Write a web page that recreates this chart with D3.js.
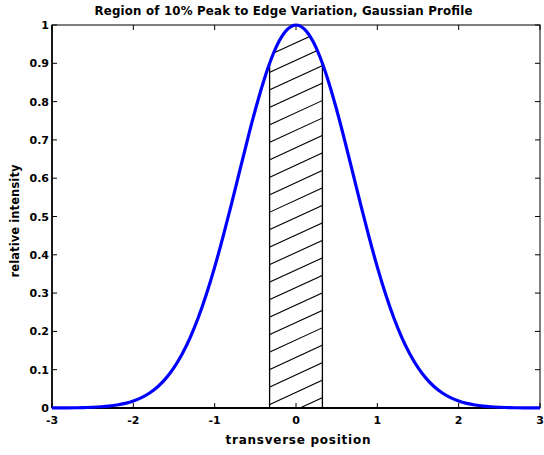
<!DOCTYPE html>
<html><head><meta charset="utf-8">
<script src="https://cdn.jsdelivr.net/npm/d3@7"></script>
<style>body{margin:0;background:#fff}svg{display:block}text{font-family:"DejaVu Sans",sans-serif;font-weight:bold}</style>
</head><body>
<script>
// Data
const xs = [-3,-2.9,-2.8,-2.7,-2.6,-2.5,-2.4,-2.3,-2.2,-2.1,-2,-1.9,-1.8,-1.7,-1.6,-1.5,-1.4,-1.3,-1.2,-1.1,-1,-0.9,-0.8,-0.7,-0.6,-0.5,-0.4,-0.3,-0.2,-0.1,0,0.1,0.2,0.3,0.4,0.5,0.6,0.7,0.8,0.9,1,1.1,1.2,1.3,1.4,1.5,1.6,1.7,1.8,1.9,2,2.1,2.2,2.3,2.4,2.5,2.6,2.7,2.8,2.9,3];
const intensity = [0.0001,0.0002,0.0004,0.0007,0.0012,0.0019,0.0032,0.0050,0.0079,0.0122,0.0183,0.0271,0.0392,0.0556,0.0773,0.1054,0.1409,0.1845,0.2369,0.2982,0.3679,0.4449,0.5273,0.6126,0.6977,0.7788,0.8521,0.9139,0.9608,0.9900,1.0000,0.9900,0.9608,0.9139,0.8521,0.7788,0.6977,0.6126,0.5273,0.4449,0.3679,0.2982,0.2369,0.1845,0.1409,0.1054,0.0773,0.0556,0.0392,0.0271,0.0183,0.0122,0.0079,0.0050,0.0032,0.0019,0.0012,0.0007,0.0004,0.0002,0.0001];
const regionEdges = [-0.3246, 0.3246];
const edgeLevel = 0.9;
const xTicks = [-3,-2,-1,0,1,2,3];
const yTicks = [0,0.1,0.2,0.3,0.4,0.5,0.6,0.7,0.8,0.9,1];
const title = "Region of 10% Peak to Edge Variation, Gaussian Profile";
const xLabel = "transverse position";
const yLabel = "relative intensity";

const W = 544, H = 455;
const m = {l:52, r:4, t:25, b:47};
const svg = d3.select("body").append("svg").attr("width",W).attr("height",H);
const x = d3.scaleLinear().domain([-3,3]).range([m.l, W-m.r]);
const y = d3.scaleLinear().domain([0,1]).range([H-m.b, m.t]);
const pts = xs.map((v,i)=>[v,intensity[i]]);
const lineGen = d3.line().x(d=>x(d[0])).y(d=>y(d[1])).curve(d3.curveMonotoneX);

// region under curve between edges
const inner = [[regionEdges[0],edgeLevel]].concat(pts.filter(p=>p[0]>regionEdges[0] && p[0]<regionEdges[1]), [[regionEdges[1],edgeLevel]]);
const clipD = "M"+x(regionEdges[0])+","+y(0)+"L"+lineGen(inner).slice(1)+"L"+x(regionEdges[1])+","+y(0)+"Z";
svg.append("defs").append("clipPath").attr("id","reg").append("path").attr("d", clipD);

// hatch lines
const hg = svg.append("g").attr("clip-path","url(#reg)");
const slope = 0.46, step = 38, x0 = x(0)+4, yb = y(0);
const xa0 = x(regionEdges[0]) - 5, xb0 = x(regionEdges[1]) + 5;
for (let k=-3; k<30; k++) {
  const xa = x0 - k*step;
  hg.append("line").attr("x1", xa0).attr("y1", yb - slope*(xa0-xa)).attr("x2", xb0).attr("y2", yb - slope*(xb0-xa))
    .attr("stroke","#000").attr("stroke-width",1.1);
}
// edges
regionEdges.forEach(e=>{
  svg.append("line").attr("x1",x(e)).attr("x2",x(e)).attr("y1",y(0)).attr("y2",y(edgeLevel))
    .attr("stroke","#000").attr("stroke-width",1.3);
});

// axes box
const tl = 5;
const g = svg.append("g");
xTicks.forEach(t=>{
  g.append("line").attr("x1",x(t)).attr("x2",x(t)).attr("y1",y(0)).attr("y2",y(0)-tl).attr("stroke","#000");
  g.append("line").attr("x1",x(t)).attr("x2",x(t)).attr("y1",y(1)).attr("y2",y(1)+tl).attr("stroke","#000");
  g.append("text").attr("x",x(t)).attr("y",y(0)+16).attr("text-anchor","middle").attr("font-size",11).text(String(t));
});
yTicks.forEach(t=>{
  g.append("line").attr("x1",x(-3)).attr("x2",x(-3)+tl).attr("y1",y(t)).attr("y2",y(t)).attr("stroke","#000");
  g.append("line").attr("x1",x(3)).attr("x2",x(3)-tl).attr("y1",y(t)).attr("y2",y(t)).attr("stroke","#000");
  g.append("text").attr("x",x(-3)-3).attr("y",y(t)+4).attr("text-anchor","end").attr("font-size",11).text(t===0?"0":t===1?"1":d3.format(".1f")(t));
});

// curve
svg.append("path").datum(pts).attr("fill","none").attr("stroke","#0000ff").attr("stroke-width",3.2).attr("d", lineGen);

g.append("rect").attr("x",x(-3)).attr("y",y(1)).attr("width",x(3)-x(-3)).attr("height",y(0)-y(1))
  .attr("fill","none").attr("stroke","#000").attr("stroke-width",1);
g.append("line").attr("x1",x(-3)).attr("x2",x(-3)).attr("y1",y(0)).attr("y2",y(1)).attr("stroke","#000").attr("stroke-width",1.6);
g.append("line").attr("x1",x(-3)).attr("x2",x(3)).attr("y1",y(0)).attr("y2",y(0)).attr("stroke","#000").attr("stroke-width",2);

svg.append("text").attr("x",283.5).attr("y",15).attr("text-anchor","middle").attr("font-size",11.8)
  .attr("textLength",378).attr("lengthAdjust","spacing").text(title);
svg.append("text").attr("x",298).attr("y",444).attr("text-anchor","middle").attr("font-size",12)
  .attr("textLength",145).attr("lengthAdjust","spacing").text(xLabel);
svg.append("text").attr("transform",`translate(19,221) rotate(-90)`).attr("text-anchor","middle").attr("font-size",11.5)
  .attr("textLength",113).attr("lengthAdjust","spacing").text(yLabel);
</script>
</body></html>
